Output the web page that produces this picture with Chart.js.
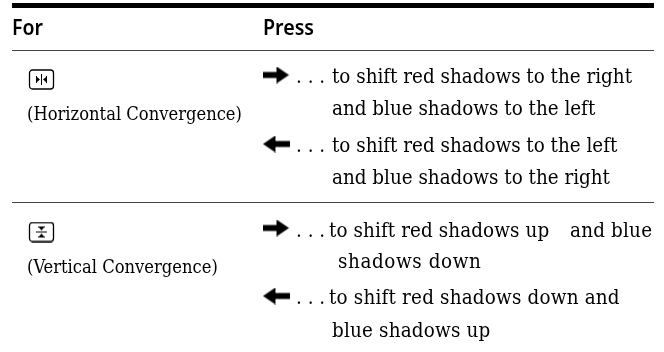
<!DOCTYPE html>
<html>
<head>
<meta charset="utf-8">
<style>
  html, body { margin: 0; padding: 0; background: #fff; }
  canvas { display: block; }
</style>
<script src="https://cdn.jsdelivr.net/npm/chart.js@4/dist/chart.umd.min.js"></script>
</head>
<body>
<canvas id="myChart" width="664" height="352"></canvas>
<script>
const headers = ['For', 'Press'];
const functionNames = ['(Horizontal Convergence)', '(Vertical Convergence)'];
const pressLines = [
  'to shift red shadows to the right',
  'and blue shadows to the left',
  'to shift red shadows to the left',
  'and blue shadows to the right',
  'to shift red shadows up',
  'and blue',
  'shadows down',
  'to shift red shadows down and',
  'blue shadows up'
];
const dots = ['. . .', '. . .', '. . .', '. . .'];

// where things sit, in axis units (the axes run in page pixels)
const ruleY = [5.5, 50.5, 202.5];
const headerX = [12, 263];
const headerY = [35, 35];
const headerFit = [31, 51];
const functionX = [27, 27];
const functionY = [120, 273];
const pressX = [332, 332, 332, 332, 329, 570, 338, 329, 332];
const pressY = [83, 115, 152, 184, 237, 237, 268, 304, 337];
const pressTrack = [0, 0, 0, 0, 0.1, 0.2, 0.6, 0.2, 0.2];
const dotsX = [296, 296, 296, 296];
const dotsY = [83, 152, 237, 304];
const rightArrowX = [276, 276];
const rightArrowY = [75, 228];
const leftArrowX = [276, 276];
const leftArrowY = [144, 296];
const buttonX = [41.5, 41.5];
const buttonY = [79.5, 232];

const SANS = '600 22px "Noto Sans"';
const SERIF = '20.4px "DejaVu Serif Condensed"';
const SERIF_SMALL = '18.2px "DejaVu Serif Condensed"';
const INK = '#000';

function points(xs, ys, texts, fit, track) {
  return xs.map((x, i) => ({
    x: x,
    y: ys[i],
    text: texts ? texts[i] : null,
    fit: fit ? fit[i] : undefined,
    track: track ? track[i] : 0
  }));
}

function arrowImage(pointRight) {
  const c = document.createElement('canvas');
  c.width = 27;
  c.height = 17;
  const g = c.getContext('2d');
  if (!pointRight) { g.translate(27, 0); g.scale(-1, 1); }
  g.fillStyle = '#000';
  g.fillRect(0, 5.5, 16, 6);
  g.beginPath();
  g.moveTo(14, 0);
  g.lineTo(26.5, 8.5);
  g.lineTo(14, 17);
  g.closePath();
  g.fill();
  return c;
}

function buttonImage(horizontal) {
  const c = document.createElement('canvas');
  c.width = 27;
  c.height = 21;
  const g = c.getContext('2d');
  g.strokeStyle = '#000';
  g.lineWidth = 1.3;
  g.beginPath();
  g.roundRect(1.5, 1, 24, 19, 3);
  g.stroke();
  // icons are the same glyph turned by a quarter
  g.translate(13.5, 10.5);
  if (!horizontal) g.rotate(Math.PI / 2);
  g.fillStyle = '#000';
  g.fillRect(-0.5, -5.5, 1, 11);
  [-1, 1].forEach(s => {
    g.fillRect(s * 5 - 0.5, -3.5, 1, 7);
    g.beginPath();
    g.moveTo(s * 1.5, 0);
    g.lineTo(s * 4.5, -2.5);
    g.lineTo(s * 4.5, 2.5);
    g.closePath();
    g.fill();
  });
  return c;
}

function textSet(xs, ys, texts, font, fit, track) {
  return { type: 'scatter', data: points(xs, ys, texts, fit, track), pointRadius: 0, font: font };
}

function markSet(xs, ys, image) {
  return { type: 'scatter', data: points(xs, ys), pointStyle: image, pointRadius: 10 };
}

// writes each text at the spot the scales gave its point
const textPlugin = {
  id: 'cellText',
  afterDatasetsDraw(chart) {
    const ctx = chart.ctx;
    ctx.save();
    ctx.fillStyle = INK;
    ctx.textAlign = 'left';
    ctx.textBaseline = 'alphabetic';
    chart.data.datasets.forEach((ds, i) => {
      if (!ds.font) return;
      ctx.font = ds.font;
      chart.getDatasetMeta(i).data.forEach((el, j) => {
        ctx.letterSpacing = ds.data[j].track + 'px';
        ctx.fillText(ds.data[j].text, el.x, el.y, ds.data[j].fit);
      });
    });
    ctx.restore();
  }
};

const ctx = document.getElementById('myChart');
const myChart = new Chart(ctx, {
  type: 'scatter',
  data: {
    datasets: [
      textSet(headerX, headerY, headers, SANS, headerFit),
      textSet(functionX, functionY, functionNames, SERIF_SMALL),
      textSet(pressX, pressY, pressLines, SERIF, null, pressTrack),
      textSet(dotsX, dotsY, dots, SERIF),
      markSet(rightArrowX, rightArrowY, arrowImage(true)),
      markSet(leftArrowX, leftArrowY, arrowImage(false)),
      markSet(buttonX.slice(0, 1), buttonY.slice(0, 1), buttonImage(true)),
      markSet(buttonX.slice(1), buttonY.slice(1), buttonImage(false))
    ]
  },
  options: {
    responsive: false,
    animation: false,
    layout: { autoPadding: false, padding: { left: 12, right: 10, top: 0, bottom: 0 } },
    plugins: { legend: { display: false }, tooltip: { enabled: false } },
    scales: {
      x: {
        type: 'linear', min: 12, max: 654, display: false
      },
      y: {
        type: 'linear', min: 0, max: 352, reverse: true,
        afterBuildTicks: axis => { axis.ticks = ruleY.map(v => ({ value: v })); },
        grid: {
          drawTicks: false,
          color: c => (c.index === 0 ? '#000' : '#444'),
          lineWidth: c => (c.index === 0 ? 5 : 1)
        },
        border: { display: false },
        ticks: { display: false, autoSkip: false, callback: () => '' }
      }
    }
  },
  plugins: [textPlugin]
});
</script>
</body>
</html>
